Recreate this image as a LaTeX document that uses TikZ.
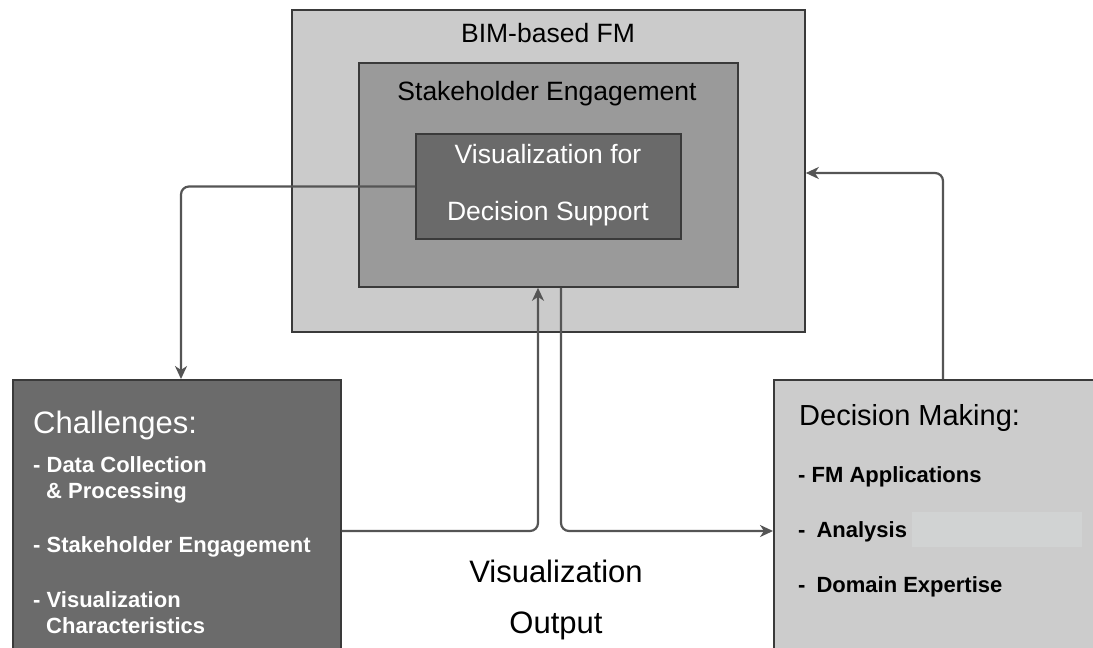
\documentclass[tikz,border=0pt]{standalone}
\usepackage{fontspec}
\setmainfont{Liberation Sans}
\usetikzlibrary{arrows.meta}

\definecolor{outerfill}{HTML}{CBCBCB}
\definecolor{midfill}{HTML}{9A9A9A}
\definecolor{innerfill}{HTML}{6A6A6A}
\definecolor{darkpanel}{HTML}{6B6B6B}
\definecolor{lightpanel}{HTML}{CCCCCC}
\definecolor{patchfill}{HTML}{D1D3D3}
\definecolor{edgecol}{HTML}{3A3A3A}
\definecolor{linkcol}{HTML}{555555}

\tikzset{
  box/.style={draw=edgecol, line width=1.6pt, inner sep=0pt, rectangle},
  conn/.style={draw=linkcol, line width=2.2pt, rounded corners=8pt,
               -{Stealth[length=13pt,width=12pt,inset=4pt]}},
  title/.style={anchor=base, inner sep=0pt, font=\fontsize{26.5}{30}\selectfont},
  head/.style={anchor=base west, inner sep=0pt},
  item/.style={anchor=base west, inner sep=0pt, font=\fontsize{22}{25}\selectfont\bfseries},
}

\begin{document}
\begin{tikzpicture}[x=1pt,y=-1pt]
\useasboundingbox (0,0) rectangle (1093,648);
\clip (0,0) rectangle (1093,648);
\fill[white] (0,0) rectangle (1093,648);

% nested boxes
\node[box, fill=outerfill, minimum width=513pt, minimum height=322pt] (bim) at (548.5,171) {};
\node[box, fill=midfill, minimum width=379pt, minimum height=224pt] (stake) at (548.5,175) {};
\node[box, fill=innerfill, minimum width=265pt, minimum height=105pt] (vds) at (548.5,186.5) {};

\node[title] (bimtxt) at (548,42) {BIM-based FM};
\node[title] (staketxt) at (547,100) {Stakeholder Engagement};
\node[title, text=white] (vdsa) at (548,163) {Visualization for};
\node[title, text=white] (vdsb) at (548,220) {Decision Support};

% side panels
\node[box, fill=darkpanel, minimum width=328pt, minimum height=300pt, anchor=north west] (chal) at (12,379) {};
\node[box, fill=lightpanel, minimum width=340pt, minimum height=300pt, anchor=north west] (dec) at (773,379) {};
\fill[patchfill] (912,512) rectangle (1082,547);

\node[head, text=white, font=\fontsize{31}{34}\selectfont] (chalhead) at (33,433) {Challenges:};
\node[item, text=white] (c1) at (33,472) {- Data Collection};
\node[item, text=white] (c1b) at (46,498) {\& Processing};
\node[item, text=white] (c2) at (33,552) {- Stakeholder Engagement};
\node[item, text=white] (c3) at (33,607) {- Visualization};
\node[item, text=white] (c3b) at (46,633) {Characteristics};

\node[head, font=\fontsize{29}{32}\selectfont] (dechead) at (799,425) {Decision Making:};
\node[item] (d1) at (798,482) {- FM Applications};
\node[item] (d2) at (798,537) {-\hspace{0.5em}Analysis};
\node[item] (d3) at (798,592) {-\hspace{0.5em}Domain Expertise};

% output label
\node[title, font=\fontsize{31}{34}\selectfont] (outa) at (556,582) {Visualization};
\node[title, font=\fontsize{31}{34}\selectfont] (outb) at (556,633) {Output};

% connector guides
\coordinate (dropx) at (181,0);
\coordinate (upx) at (538,0);
\coordinate (downx) at (561,0);
\coordinate (flowy) at (0,531);
\coordinate (backx) at (943,0);
\coordinate (backy) at (0,173);

% connectors
\draw[conn] (vds.west) -| (chal.north -| dropx);
\draw[conn] (chal.east |- flowy) -| (stake.south -| upx);
\draw[conn] (stake.south -| downx) |- (dec.west |- flowy);
\draw[conn] (dec.north -| backx) |- (bim.east |- backy);
\end{tikzpicture}
\end{document}
